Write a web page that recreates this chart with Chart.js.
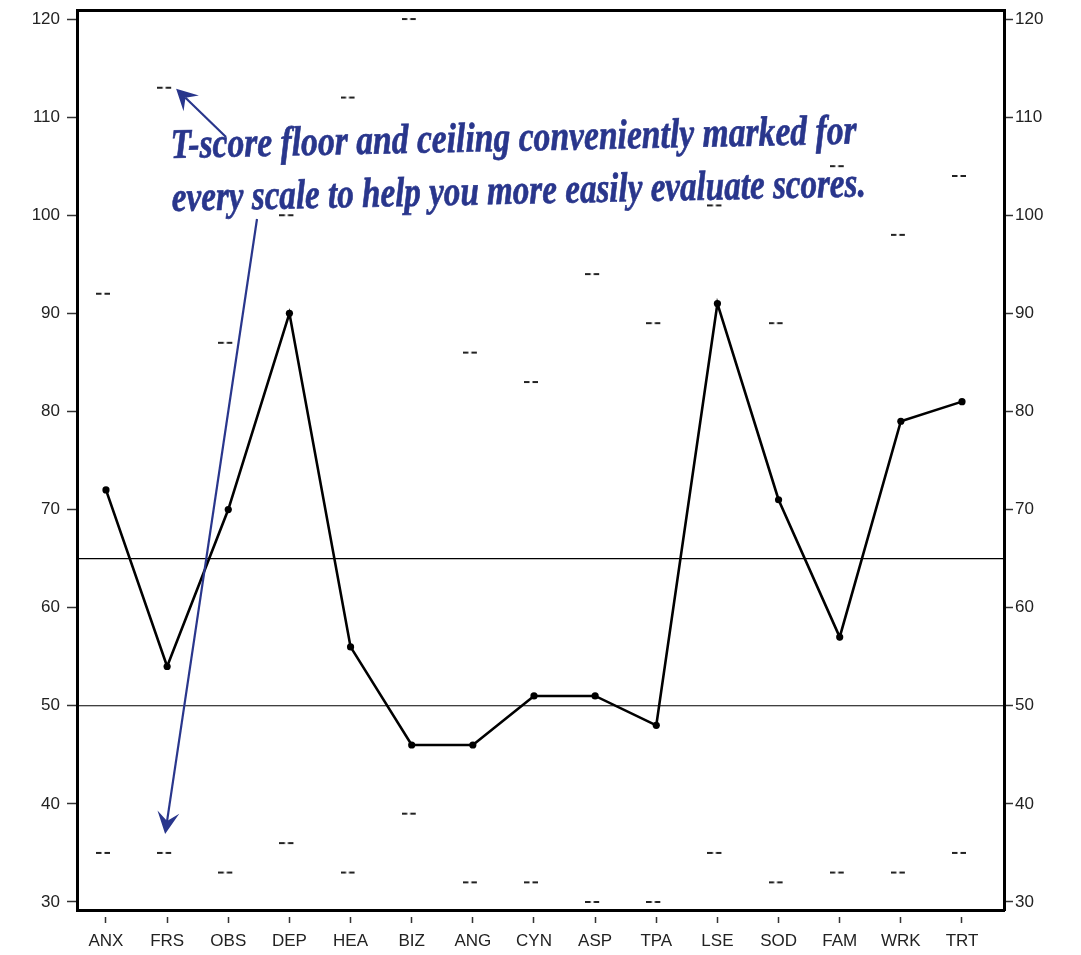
<!DOCTYPE html>
<html>
<head>
<meta charset="utf-8">
<script src="https://cdn.jsdelivr.net/npm/chart.js@4.4.0/dist/chart.umd.min.js"></script>
<style>
    html, body { margin: 0; padding: 0; background: #fff; }
    #wrap { width: 1081px; height: 955px; }
</style>
</head>
<body>
<div id="wrap"><canvas id="chart" width="1081" height="955"></canvas></div>
<script>
const scaleNames = ['ANX', 'FRS', 'OBS', 'DEP', 'HEA', 'BIZ', 'ANG', 'CYN', 'ASP', 'TPA', 'LSE', 'SOD', 'FAM', 'WRK', 'TRT'];
const tScores = [72, 54, 70, 90, 56, 46, 46, 51, 51, 48, 91, 71, 57, 79, 81];
const ceilings = [92, 113, 87, 100, 112, 120, 86, 83, 94, 89, 101, 89, 105, 98, 104];
const floors = [35, 35, 33, 36, 33, 39, 32, 32, 30, 30, 35, 32, 33, 33, 35];
const cutoffs = [65, 50];
const yTicks = [30, 40, 50, 60, 70, 80, 90, 100, 110, 120];
const noteLines = [
    'T-score floor and ceiling conveniently marked for',
    'every scale to help you more easily evaluate scores.'
];

const X_MIN = -0.474, X_MAX = 14.687;
const Y_MIN = 29.18, Y_MAX = 120.92;
const INK = '#29368c';

// "--" marker drawn once, used as point image
const dashMark = document.createElement('canvas');
dashMark.width = 20;
dashMark.height = 4;
(() => {
    const c = dashMark.getContext('2d');
    c.fillStyle = '#222';
    c.fillRect(0, 1, 5.5, 2);
    c.fillRect(8.5, 1, 5.5, 2);
})();

const toPoints = arr => arr.map((y, i) => ({ x: i, y }));

const noPad = s => { s.paddingTop = 0; s.paddingBottom = 0; s.paddingLeft = 0; s.paddingRight = 0; };

const drawArrow = (ctx, tail, tip, len, half, notch) => {
    const dx = tail.x - tip.x, dy = tail.y - tip.y;
    const d = Math.hypot(dx, dy);
    const ux = dx / d, uy = dy / d;
    const px = -uy, py = ux;
    const bx = tip.x + ux * len, by = tip.y + uy * len;
    const nx = tip.x + ux * notch, ny = tip.y + uy * notch;
    ctx.beginPath();
    ctx.moveTo(tail.x, tail.y);
    ctx.lineTo(nx, ny);
    ctx.stroke();
    ctx.beginPath();
    ctx.moveTo(tip.x, tip.y);
    ctx.lineTo(bx + px * half, by + py * half);
    ctx.lineTo(nx, ny);
    ctx.lineTo(bx - px * half, by - py * half);
    ctx.closePath();
    ctx.fill();
};

const cutoffPlugin = {
    id: 'cutoffs',
    beforeDatasetsDraw(chart) {
        const { ctx, chartArea, scales: { y } } = chart;
        ctx.save();
        ctx.strokeStyle = '#000';
        ctx.lineWidth = 1.2;
        cutoffs.forEach(v => {
            const py = y.getPixelForValue(v);
            ctx.beginPath();
            ctx.moveTo(chartArea.left, py);
            ctx.lineTo(chartArea.right, py);
            ctx.stroke();
        });
        ctx.restore();
    }
};

const notePlugin = {
    id: 'note',
    afterDraw(chart) {
        const { ctx, scales: { x, y } } = chart;
        ctx.save();
        ctx.strokeStyle = INK;
        ctx.fillStyle = INK;
        ctx.lineWidth = 2.2;

        const fx = x.getPixelForValue(1);
        drawArrow(ctx, { x: 226, y: 137 }, { x: fx + 9, y: y.getPixelForValue(ceilings[1]) + 1 }, 21, 11, 13);
        drawArrow(ctx, { x: 257, y: 219 }, { x: fx - 2, y: y.getPixelForValue(floors[1]) - 19 }, 22, 11, 13);

        ctx.font = 'bold italic 42px "Liberation Serif"';
        ctx.textBaseline = 'alphabetic';
        ctx.lineWidth = 0.7;
        const targets = [{ w: 686, dy: 0 }, { w: 694, dy: 53 }];
        noteLines.forEach((line, i) => {
            ctx.save();
            ctx.translate(171, 158);
            ctx.rotate(-0.021);
            ctx.translate(0, targets[i].dy);
            const w = ctx.measureText(line).width;
            ctx.scale(targets[i].w / w, 1);
            ctx.fillText(line, 0, 0);
            ctx.strokeText(line, 0, 0);
            ctx.restore();
        });
        ctx.restore();
    }
};

const tickFont = { family: '"Liberation Sans", Arial, sans-serif', size: 17 };

new Chart(document.getElementById('chart'), {
    type: 'scatter',
    data: {
        datasets: [
            {
                data: toPoints(tScores),
                showLine: true,
                borderColor: '#000',
                borderWidth: 2.6,
                pointRadius: 3.6,
                pointBackgroundColor: '#000',
                pointBorderWidth: 0,
                tension: 0
            },
            {
                data: toPoints(ceilings),
                showLine: false,
                pointStyle: dashMark
            },
            {
                data: toPoints(floors),
                showLine: false,
                pointStyle: dashMark
            }
        ]
    },
    options: {
        responsive: false,
        animation: false,
        events: [],
        layout: { padding: 0 },
        plugins: { legend: { display: false }, tooltip: { enabled: false } },
        scales: {
            x: {
                type: 'linear',
                position: 'bottom',
                min: X_MIN,
                max: X_MAX,
                afterBuildTicks: s => { s.ticks = scaleNames.map((_, i) => ({ value: i })); },
                afterFit: s => { s.height = 45; noPad(s); },
                ticks: {
                    callback: v => scaleNames[v],
                    font: tickFont,
                    color: '#222',
                    padding: 8,
                    autoSkip: false,
                    maxRotation: 0
                },
                grid: {
                    drawOnChartArea: false,
                    tickLength: 13,
                    tickColor: '#333',
                    tickWidth: 1.5,
                    tickBorderDash: [0, 5, 8, 40]
                },
                border: { display: true, color: '#000', width: 3 }
            },
            xTop: {
                type: 'linear',
                position: 'top',
                min: X_MIN,
                max: X_MAX,
                afterFit: s => { s.height = 10; noPad(s); },
                ticks: { display: false },
                grid: { display: false },
                border: { display: true, color: '#000', width: 3 }
            },
            y: {
                type: 'linear',
                position: 'left',
                min: Y_MIN,
                max: Y_MAX,
                afterBuildTicks: s => { s.ticks = yTicks.map(v => ({ value: v })); },
                afterFit: s => { s.width = 77; noPad(s); },
                ticks: { font: tickFont, color: '#222', padding: 7 },
                grid: { drawOnChartArea: false, tickLength: 10, tickColor: '#333', tickWidth: 1.5 },
                border: { display: true, color: '#000', width: 3 }
            },
            yRight: {
                type: 'linear',
                position: 'right',
                min: Y_MIN,
                max: Y_MAX,
                afterBuildTicks: s => { s.ticks = yTicks.map(v => ({ value: v })); },
                afterFit: s => { s.width = 77; noPad(s); },
                ticks: { font: tickFont, color: '#222', padding: 2 },
                grid: { drawOnChartArea: false, tickLength: 9, tickColor: '#333', tickWidth: 1.5 },
                border: { display: true, color: '#000', width: 3 }
            }
        }
    },
    plugins: [cutoffPlugin, notePlugin]
});
</script>
</body>
</html>
